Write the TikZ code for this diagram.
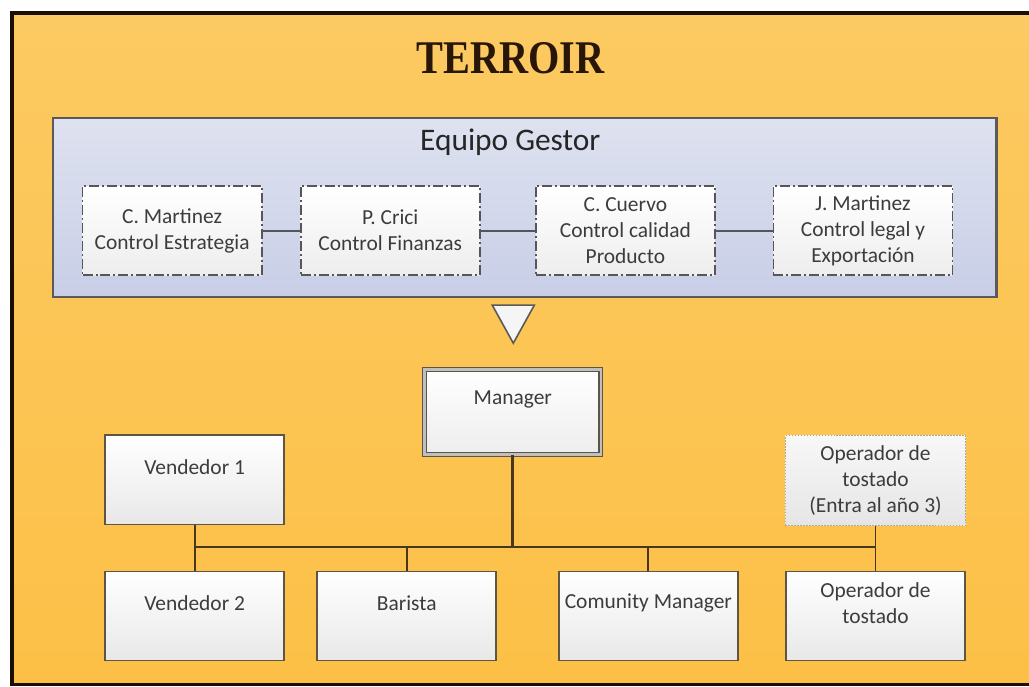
\documentclass[tikz,border=0pt]{standalone}
\usepackage{fontspec}
\setmainfont{Carlito}
\newfontfamily\titlefont{Liberation Serif}
\usetikzlibrary{calc}
\definecolor{bgtop}{RGB}{252,202,98}
\definecolor{bgbot}{RGB}{252,192,70}
\definecolor{framec}{RGB}{25,15,5}
\definecolor{boxedge}{RGB}{95,85,70}
\definecolor{txtgray}{RGB}{60,60,60}
\definecolor{egtop}{RGB}{222,226,240}
\definecolor{egbot}{RGB}{200,206,230}
\definecolor{egedge}{RGB}{90,90,90}
\definecolor{conn}{RGB}{70,55,30}
\definecolor{gconn}{RGB}{85,85,90}
\definecolor{dotedge}{RGB}{175,168,155}
\definecolor{titlec}{RGB}{40,22,8}
\begin{document}
\begin{tikzpicture}[x=1bp,y=-1bp,
  bodyfont/.style={font=\fontsize{21.5}{26}\selectfont},
  orgbox/.style={draw=boxedge, line width=1.6pt, top color=white, bottom color=black!9,
    minimum width=179bp, minimum height=89bp, inner sep=0pt},
  gbox/.style={draw=gconn, line width=1.8pt, dash pattern=on 10pt off 3pt on 2pt off 3pt,
    top color=white, bottom color=black!7, minimum width=179bp, minimum height=89bp,
    inner sep=0pt, align=center, text=txtgray, bodyfont},
  dotbox/.style={draw=dotedge, line width=1.3pt, dash pattern=on 1.5pt off 1.5pt,
    top color=black!3, bottom color=black!10, minimum width=180bp, minimum height=90bp,
    inner sep=0pt, align=center, text=txtgray, bodyfont},
  lbl/.style={text=txtgray, align=center, inner sep=0pt, bodyfont},
  orgline/.style={draw=conn, line width=1.8pt},
  gline/.style={draw=gconn, line width=2pt}]
\useasboundingbox (0,0) rectangle (1028.4,686.6);
\fill[white] (-5,-5) rectangle (1040,695);
% background panel
\shade[top color=bgtop, bottom color=bgbot] (12,13) rectangle (1040,684);
\draw[framec, line width=3.5pt] (1040,13) -- (12,13) -- (12,684) -- (1040,684);
% title
\node[anchor=base, text=titlec, inner sep=0pt] (title) at (510,73)
  {\scalebox{0.86}[1]{\titlefont\bfseries\fontsize{47}{50}\selectfont TERROIR}};
% Equipo Gestor panel
\node[draw=egedge, line width=2.4pt, top color=egtop, bottom color=egbot,
  minimum width=943bp, minimum height=179bp, inner sep=0pt] (eg) at (524.5,207.5) {};
\node[anchor=base, text=black!85, inner sep=0pt, font=\fontsize{31.5}{37}\selectfont]
  (egt) at (510,150) {Equipo Gestor};
\node[gbox] (g1) at (172,230.5) {C. Martinez\\Control Estrategia};
\node[gbox] (g2) at (390,230.5) {P. Crici\\Control Finanzas};
\node[gbox] (g3) at (625,230.5) {C. Cuervo\\Control calidad\\Producto};
\node[gbox] (g4) at (862.5,230.5) {J. Martinez\\Control legal y\\Exportación};
\draw[gline] (g1.east) -- (g2.west);
\draw[gline] (g2.east) -- (g3.west);
\draw[gline] (g3.east) -- (g4.west);
% triangle
\draw[draw=egedge, line width=1.6pt, fill=white!96!black, line join=miter]
  (492,305) -- (534,305) -- (513,343) -- cycle;
% Manager
\node[draw=boxedge, line width=1.2pt, double=black!25, double distance=2.6pt,
  top color=white, bottom color=black!7, minimum width=176bp, minimum height=85bp,
  inner sep=0pt] (mgr) at (512.5,412) {};
\node[lbl] (mgrt) at ([yshift=13bp]mgr.center) {Manager};
% lower boxes
\node[orgbox] (v1) at (194.5,479.5) {};
\node[lbl] (v1t) at ([yshift=13bp]v1.center) {Vendedor 1};
\node[orgbox] (v2) at (194.5,615.5) {};
\node[lbl] (v2t) at ([yshift=13bp]v2.center) {Vendedor 2};
\node[orgbox] (bar) at (406.5,615.5) {};
\node[lbl] (bart) at ([yshift=13bp]bar.center) {Barista};
\node[orgbox] (cm) at (648,615.5) {};
\node[lbl] (cmt) at ([yshift=13bp]cm.center) {Comunity Manager};
\node[orgbox] (op) at (875,615.5) {};
\node[lbl] (opt) at ([yshift=13bp]op.center) {Operador de\\tostado};
\node[dotbox] (op3) at (875,480.5) {Operador de\\tostado\\(Entra al año 3)};
% connectors
\coordinate (bus) at (512.5,547);
\draw[orgline, line width=2.8pt] (mgr.south) -- (mgr.south |- bus);
\draw[orgline] (v1.south |- bus) -- (op.north |- bus);
\draw[orgline] (v1.south) -- (v2.north);
\draw[orgline] (op3.south) -- (op.north);
\draw[orgline] (bar.north) -- (bar.north |- bus);
\draw[orgline] (cm.north) -- (cm.north |- bus);
\end{tikzpicture}
\end{document}
